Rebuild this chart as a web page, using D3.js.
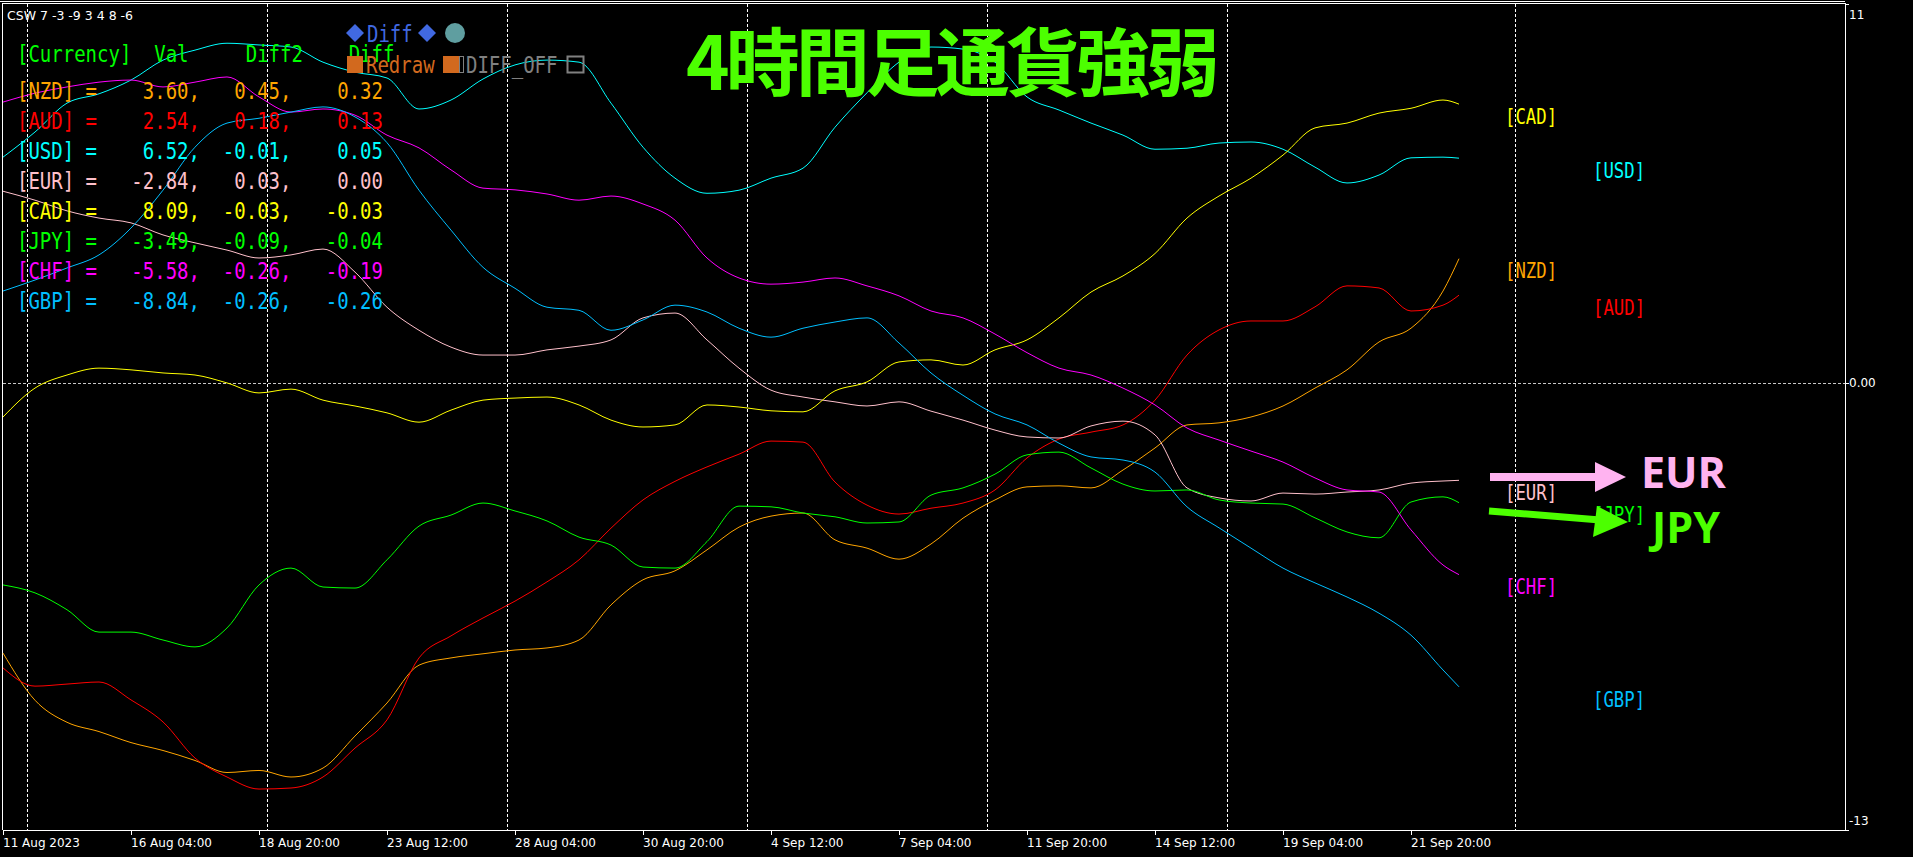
<!DOCTYPE html>
<html>
<head>
<meta charset="utf-8">
<script src="https://cdnjs.cloudflare.com/ajax/libs/d3/7.8.5/d3.min.js"></script>
<style>
html, body { margin: 0; padding: 0; background: #000; overflow: hidden; }
svg { display: block; }
text { white-space: pre; }
</style>
</head>
<body>
<svg id="chart" width="1913" height="857"></svg>
<script>
// currency strength, H4 bars (every 4th bar)
var currencies = ["NZD", "AUD", "USD", "EUR", "CAD", "JPY", "CHF", "GBP"];
var colors = ["#FFA500", "#FF0000", "#00FFFF", "#FFC0CB", "#FFFF00", "#00FF00", "#FF00FF", "#00BFFF"];

var bars = [0, 4, 8, 12, 16, 20, 24, 28, 32, 36, 40, 44, 48, 52, 56, 60, 64, 68, 72, 76, 80, 84, 88, 92,
  96, 100, 104, 108, 112, 116, 120, 124, 128, 132, 136, 140, 144, 148, 152, 156, 160, 164, 168, 172, 176, 180, 182];

var nzd = [-7.86, -9.23, -9.87, -10.14, -10.46, -10.69, -10.98, -11.33, -11.27, -11.46,
  -11.20, -10.27, -9.31, -8.21, -8.00, -7.88, -7.77, -7.71, -7.48, -6.46,
  -5.73, -5.47, -4.86, -4.20, -3.88, -3.79, -4.57, -4.81, -5.13, -4.69,
  -3.94, -3.41, -3.03, -3.00, -3.06, -2.54, -1.90, -1.23, -1.17, -1.00,
  -0.68, -0.16, 0.37, 1.18, 1.58, 2.66, 3.60];
var aud = [-8.29, -8.82, -8.76, -8.70, -9.22, -9.86, -10.91, -11.46, -11.81, -11.78,
  -11.46, -10.62, -9.80, -8.00, -7.36, -6.84, -6.35, -5.79, -5.15, -4.23,
  -3.41, -2.87, -2.45, -2.08, -1.70, -1.73, -2.89, -3.56, -3.82, -3.65,
  -3.50, -3.12, -2.19, -1.64, -1.44, -1.23, -0.51, 0.80, 1.53, 1.79,
  1.79, 2.20, 2.81, 2.75, 2.08, 2.25, 2.54];
var usd = [6.55, 7.28, 8.12, 8.39, 8.79, 9.37, 9.66, 9.86, 9.81, 9.75,
  9.31, 9.02, 8.85, 7.95, 8.21, 8.82, 9.23, 9.37, 9.31, 8.12,
  6.84, 5.94, 5.50, 5.59, 5.94, 6.23, 7.42, 8.42, 9.31, 9.75,
  9.69, 9.31, 8.30, 7.92, 7.54, 7.19, 6.78, 6.81, 6.96, 6.99,
  6.78, 6.26, 5.80, 6.03, 6.53, 6.55, 6.52];
var eur = [5.56, 5.30, 4.99, 4.78, 4.64, 4.29, 4.06, 3.85, 3.62, 3.71,
  3.88, 3.21, 2.19, 1.52, 1.03, 0.80, 0.80, 0.95, 1.06, 1.24,
  1.88, 2.02, 1.24, 0.42, -0.22, -0.42, -0.56, -0.68, -0.56, -0.83,
  -1.09, -1.38, -1.58, -1.61, -1.26, -1.12, -1.52, -3.06, -3.35, -3.44,
  -3.21, -3.24, -3.18, -3.12, -2.92, -2.86, -2.84];
var cad = [-1.00, -0.16, 0.22, 0.42, 0.37, 0.28, 0.22, -0.01, -0.30, -0.19,
  -0.51, -0.68, -0.88, -1.15, -0.80, -0.51, -0.45, -0.42, -0.65, -1.09,
  -1.29, -1.23, -0.65, -0.71, -0.82, -0.85, -0.24, 0.02, 0.60, 0.66,
  0.51, 0.95, 1.24, 1.88, 2.63, 3.10, 3.75, 4.78, 5.42, 5.94,
  6.61, 7.40, 7.54, 7.83, 7.97, 8.21, 8.09];
var jpy = [-5.88, -6.11, -6.60, -7.25, -7.25, -7.48, -7.68, -7.13, -5.88, -5.39,
  -5.94, -5.97, -5.15, -4.17, -3.85, -3.50, -3.73, -4.02, -4.49, -4.72,
  -5.36, -5.39, -4.62, -3.59, -3.61, -3.79, -3.90, -4.08, -4.05, -3.27,
  -3.06, -2.66, -2.10, -2.02, -2.48, -2.95, -3.15, -3.12, -3.41, -3.50,
  -3.53, -3.93, -4.34, -4.51, -3.47, -3.32, -3.49];
var chf = [8.15, 8.41, 8.59, 8.73, 8.79, 8.59, 8.73, 8.88, 8.30, 7.86,
  7.95, 7.77, 7.19, 6.82, 6.18, 5.65, 5.60, 5.48, 5.30, 5.42,
  5.19, 4.72, 3.62, 3.04, 2.86, 2.92, 3.04, 2.81, 2.52, 2.08,
  1.88, 1.41, 0.87, 0.42, 0.22, -0.16, -0.65, -1.32, -1.67, -1.99,
  -2.31, -2.77, -3.12, -3.18, -4.28, -5.30, -5.58];
var gbp = [2.66, 2.98, 3.33, 3.71, 4.49, 5.59, 6.84, 7.54, 7.68, 7.86,
  8.01, 7.72, 6.97, 5.59, 4.43, 3.35, 2.74, 2.19, 2.10, 1.52,
  1.82, 2.25, 2.05, 1.58, 1.32, 1.58, 1.76, 1.88, 1.15, 0.28,
  -0.37, -0.91, -1.23, -1.76, -2.16, -2.25, -2.60, -3.61, -4.22, -4.81,
  -5.39, -5.82, -6.23, -6.70, -7.34, -8.35, -8.84];

// table in the top-left corner
var valCol = [3.60, 2.54, 6.52, -2.84, 8.09, -3.49, -5.58, -8.84];
var diff2Col = [0.45, 0.18, -0.01, 0.03, -0.03, -0.09, -0.26, -0.26];
var diffCol = [0.32, 0.13, 0.05, 0.00, -0.03, -0.04, -0.19, -0.26];

var tickBars = [0, 16, 32, 48, 64, 80, 96, 112, 128, 144, 160, 176];
var tickLabels = ["11 Aug 2023", "16 Aug 04:00", "18 Aug 20:00", "23 Aug 12:00", "28 Aug 04:00", "30 Aug 20:00",
  "4 Sep 12:00", "7 Sep 04:00", "11 Sep 20:00", "14 Sep 12:00", "19 Sep 04:00", "21 Sep 20:00"];
var sepBars = [3, 33, 63, 93, 123, 153, 189];
var yTicks = [11, 0, -13];
var yTickLabels = ["11", "0.00", "-13"];

var series = [nzd, aud, usd, eur, cad, jpy, chf, gbp];

var svg = d3.select("#chart"),
    plot = {left: 3, right: 1845, top: 4, bottom: 830};

var x = d3.scaleLinear().domain([0, 1]).range([plot.left, plot.left + 8]);
var y = d3.scaleLinear().domain([-13, 11]).range([plot.bottom, plot.top]);

svg.append("rect").attr("width", 1913).attr("height", 857).attr("fill", "#000");

// week separators
svg.append("g").selectAll("line")
  .data(sepBars).enter().append("line")
  .attr("x1", function(d) { return x(d) + 0.5; })
  .attr("x2", function(d) { return x(d) + 0.5; })
  .attr("y1", plot.top).attr("y2", plot.bottom)
  .attr("stroke", "#fff").attr("stroke-dasharray", "3,2");

// zero level
svg.append("line")
  .attr("x1", plot.left).attr("x2", plot.right)
  .attr("y1", Math.round(y(0)) + 0.5).attr("y2", Math.round(y(0)) + 0.5)
  .attr("stroke", "#c8c8c8").attr("stroke-dasharray", "3,2");

// frame
var frame = svg.append("g").attr("stroke", "#fff").attr("fill", "none");
frame.append("line").attr("x1", 0).attr("x2", plot.right).attr("y1", 1.5).attr("y2", 1.5);
frame.append("line").attr("x1", plot.left).attr("x2", plot.right).attr("y1", 3.5).attr("y2", 3.5);
frame.append("line").attr("x1", plot.left - 0.5).attr("x2", plot.left - 0.5).attr("y1", 3).attr("y2", plot.bottom);
frame.append("line").attr("x1", plot.right + 0.5).attr("x2", plot.right + 0.5).attr("y1", 3).attr("y2", plot.bottom + 1);
frame.append("line").attr("x1", plot.left).attr("x2", plot.right + 1).attr("y1", plot.bottom + 0.5).attr("y2", plot.bottom + 0.5);

// x axis
var xa = svg.append("g");
xa.selectAll("line").data(tickBars).enter().append("line")
  .attr("x1", function(d) { return x(d) + 0.5; })
  .attr("x2", function(d) { return x(d) + 0.5; })
  .attr("y1", plot.bottom).attr("y2", plot.bottom + 5)
  .attr("stroke", "#fff");
xa.selectAll("text").data(tickBars).enter().append("text")
  .attr("x", function(d) { return x(d); })
  .attr("y", 847)
  .attr("fill", "#fff")
  .style("font", "12px 'DejaVu Sans'")
  .text(function(d, i) { return tickLabels[i]; });

// y axis (right)
var ya = svg.append("g");
ya.selectAll("line").data(yTicks).enter().append("line")
  .attr("x1", plot.right).attr("x2", plot.right + 4)
  .attr("y1", function(d) { return Math.round(y(d)) + 0.5; })
  .attr("y2", function(d) { return Math.round(y(d)) + 0.5; })
  .attr("stroke", "#fff");
ya.selectAll("text").data(yTicks).enter().append("text")
  .attr("x", plot.right + 4)
  .attr("y", function(d, i) { return y(d) + [15, 4, -5][i]; })
  .attr("fill", "#fff")
  .style("font", "12px 'DejaVu Sans'")
  .text(function(d, i) { return yTickLabels[i]; });

// lines
var line = d3.line()
  .x(function(d, i) { return x(bars[i]); })
  .y(function(d) { return y(d); })
  .curve(d3.curveMonotoneX);

svg.append("g").selectAll("path")
  .data(series).enter().append("path")
  .attr("d", line)
  .attr("fill", "none")
  .attr("stroke", function(d, i) { return colors[i]; })
  .attr("stroke-width", 1);

// stretched monospace text, like the terminal font
function monoText(g, tx, ty, str, color, size) {
  g.append("g")
    .attr("transform", "translate(" + tx + "," + ty + ") scale(1,1.25)")
    .append("text")
    .attr("dy", "0.36em")
    .attr("fill", color)
    .style("font", size + "px 'DejaVu Sans Mono'")
    .text(str);
}

// labels at line ends, alternating columns by rank
var lastIdx = bars.length - 1;
var order = d3.range(currencies.length).sort(function(a, b) { return series[b][lastIdx] - series[a][lastIdx]; });
var lab = svg.append("g");
order.forEach(function(ci, rank) {
  var bx = rank % 2 == 0 ? 187.75 : 198.75;
  monoText(lab, x(bx), y(series[ci][lastIdx]) + 12, "[" + currencies[ci] + "]", colors[ci], 17.3);
});

// table
var tbl = svg.append("g");
svg.append("text").attr("x", 7).attr("y", 20).attr("fill", "#fff")
  .style("font", "12.5px 'DejaVu Sans'")
  .text("CSW 7 -3 -9 3 4 8 -6");

function pad(s, n) { while (s.length < n) s = " " + s; return s; }
monoText(tbl, 17, 53, "[Currency]  Val     Diff2    Diff", "#00FF00", 19);
currencies.forEach(function(c, i) {
  var row = "[" + c + "] = " + pad(valCol[i].toFixed(2) + ",", 8) +
    pad(diff2Col[i].toFixed(2) + ",", 8) + pad(diffCol[i].toFixed(2), 8);
  monoText(tbl, 17, 90 + i * 30, row, colors[i], 19);
});

// buttons
var btn = svg.append("g");
function diamond(cx, cy, r) { return "M" + cx + "," + (cy - r) + "L" + (cx + r) + "," + cy + "L" + cx + "," + (cy + r) + "L" + (cx - r) + "," + cy + "Z"; }
btn.append("path").attr("d", diamond(355, 33, 9)).attr("fill", "#4169E1");
monoText(btn, 367, 33, "Diff", "#4169E1", 19);
btn.append("path").attr("d", diamond(427, 33, 9)).attr("fill", "#4169E1");
btn.append("circle").attr("cx", 455).attr("cy", 33).attr("r", 10).attr("fill", "#5F9EA0");
btn.append("rect").attr("x", 347).attr("y", 56).attr("width", 16).attr("height", 17).attr("fill", "#D2691E");
monoText(btn, 366, 64, "Redraw", "#D2691E", 19);
btn.append("rect").attr("x", 443).attr("y", 56).attr("width", 16).attr("height", 17).attr("fill", "#D2691E");
btn.append("rect").attr("x", 459.5).attr("y", 56.5).attr("width", 4).attr("height", 16).attr("fill", "none").attr("stroke", "#808080");
monoText(btn, 466, 64, "DIFF_OFF", "#808080", 19);
btn.append("rect").attr("x", 567.5).attr("y", 56.5).attr("width", 16).attr("height", 16).attr("fill", "none").attr("stroke", "#808080").attr("stroke-width", 2);

// title
svg.append("text")
  .attr("x", 686).attr("y", 90)
  .attr("textLength", 534).attr("lengthAdjust", "spacing")
  .attr("fill", "#4CFF00")
  .style("font", "bold 74px 'Noto Sans CJK JP'")
  .text("4時間足通貨強弱");

// hand-drawn arrows
var ann = svg.append("g");
ann.append("rect").attr("x", 1490).attr("y", 473).attr("width", 108).attr("height", 8).attr("fill", "#FFB3F0");
ann.append("path").attr("d", "M1595,462L1626,477L1595,492Z").attr("fill", "#FFB3F0");
ann.append("text").attr("x", 1641).attr("y", 488).attr("fill", "#FFB3F0")
  .style("font", "bold 43px 'Open Sans'").text("EUR");
ann.append("line").attr("x1", 1489).attr("y1", 511).attr("x2", 1600).attr("y2", 520)
  .attr("stroke", "#4CFF00").attr("stroke-width", 7);
ann.append("path").attr("d", "M1597,506L1628,522L1593,537Z").attr("fill", "#4CFF00");
ann.append("text").attr("x", 1652).attr("y", 543).attr("fill", "#4CFF00")
  .style("font", "bold 43px 'Open Sans'").text("JPY");
</script>
</body>
</html>
